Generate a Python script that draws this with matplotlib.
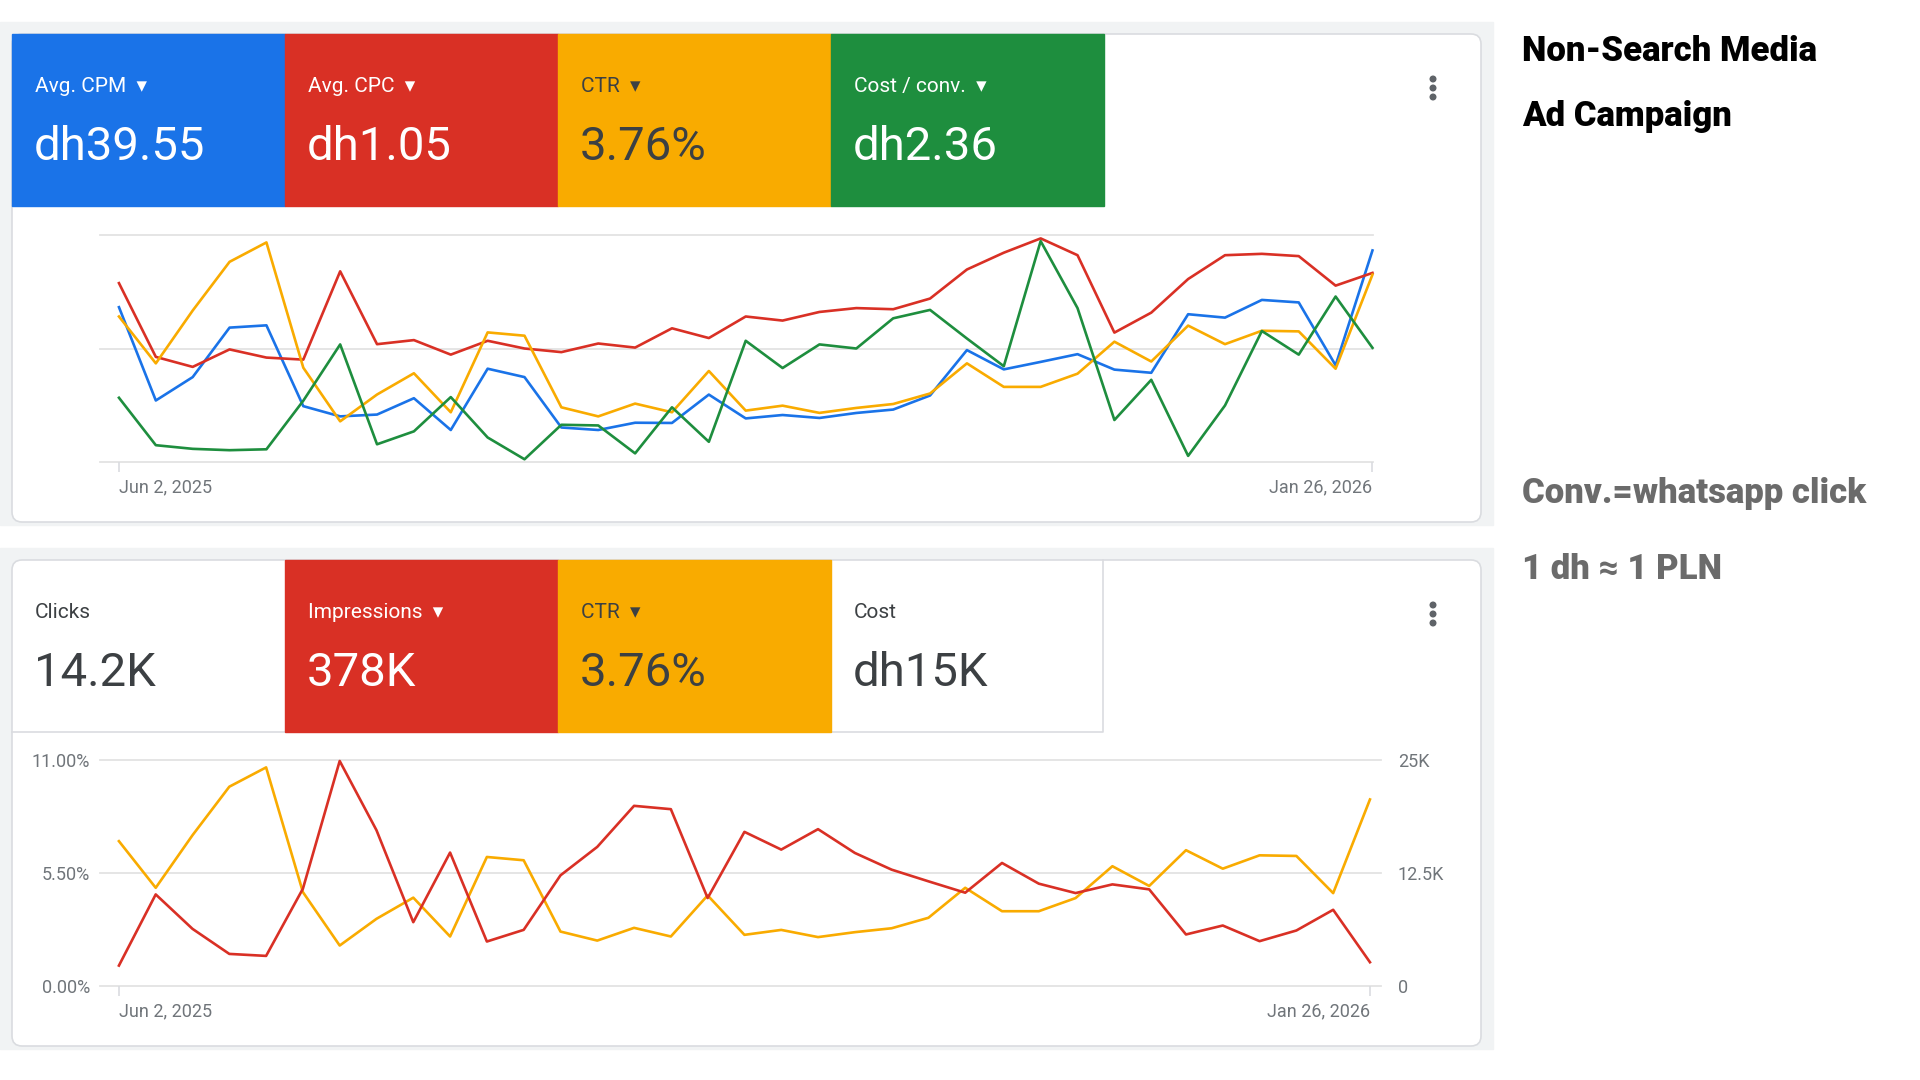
import matplotlib
matplotlib.use("Agg")
import matplotlib.pyplot as plt
import pandas as pd
from matplotlib.patches import Rectangle, FancyBboxPatch, Circle

plt.rcParams["font.family"] = ["Roboto", "DejaVu Sans"]

BLUE = "#1a73e8"
RED = "#d93025"
YELLOW = "#f9ab00"
GREEN = "#1e8e3e"
INK = "#3c4043"
MUTED = "#70757a"
LINE = "#dadce0"
GRID = "#e3e3e3"

weeks = pd.date_range("2025-06-02", periods=35, freq="7D")

# top chart has no visible axis -> values as % of each metric's own axis height
cpm_rel = [68.2, 27.1, 37.4, 59.2, 60.2, 24.6, 20.1, 20.9, 28.1, 14.1, 41.1, 37.4,
           15.2, 14.1, 17.3, 17.2, 29.7, 19.2, 20.7, 19.4, 21.6, 23.1, 29.3, 49.3,
           40.8, 44.1, 47.5, 40.7, 39.3, 65.1, 63.6, 71.4, 70.3, 42.6, 93.2]
cpc_rel = [78.8, 46.3, 41.9, 49.6, 46.0, 45.1, 84.0, 51.9, 53.7, 47.3, 53.4, 50.0,
           48.4, 52.2, 50.4, 58.9, 54.6, 64.1, 62.3, 66.1, 67.8, 67.3, 72.0, 84.8,
           92.2, 98.5, 91.1, 57.0, 65.8, 80.6, 91.1, 91.7, 90.7, 77.7, 83.3]
conv_rel = [28.3, 7.4, 5.8, 5.2, 5.6, 27.0, 51.8, 7.8, 13.5, 28.6, 10.8, 1.2,
            16.4, 16.1, 3.8, 24.1, 8.9, 53.4, 41.4, 51.8, 50.0, 63.3, 67.0, 54.4,
            42.2, 97.3, 67.8, 18.5, 36.2, 2.7, 24.9, 57.7, 47.3, 72.9, 50.3]

# CTR (%) and weekly impressions
ctr_pct = [7.05, 4.78, 7.34, 9.70, 10.64, 4.57, 1.97, 3.27, 4.30, 2.41, 6.28, 6.12,
           2.65, 2.21, 2.83, 2.41, 4.41, 2.49, 2.73, 2.38, 2.62, 2.81, 3.32, 4.78,
           3.64, 3.64, 4.28, 5.83, 4.87, 6.61, 5.71, 6.36, 6.33, 4.52, 9.08]
impressions = [2260, 10130, 6320, 3550, 3330, 10760, 24890, 17230, 7060, 14760, 4920, 6210,
               12240, 15390, 19930, 19560, 9730, 17050, 15090, 17350, 14720, 12870, 11580, 10320,
               13610, 11320, 10280, 11240, 10690, 5700, 6690, 4960, 6140, 8430, 2630]

top_labels = ["Avg. CPM", "Avg. CPC", "CTR", "Cost / conv."]
top_values = ["dh39.55", "dh1.05", "3.76%", "dh2.36"]
top_colors = [BLUE, RED, YELLOW, GREEN]

bottom_labels = ["Clicks", "Impressions", "CTR", "Cost"]
bottom_values = ["14.2K", "378K", "3.76%", "dh15K"]
bottom_colors = [None, RED, YELLOW, None]

W, H = 1920, 1080
fig = plt.figure(figsize=(19.2, 10.8), dpi=100)
bg = fig.add_axes([0, 0, 1, 1])
bg.set_xlim(0, W)
bg.set_ylim(H, 0)
bg.axis("off")


def px_axes(x0, y0, x1, y1):
    return fig.add_axes([x0 / W, 1 - y1 / H, (x1 - x0) / W, (y1 - y0) / H])


def card(y0, y1, labels, values, colors, dropdown):
    bg.add_patch(Rectangle((0, y0 - 12), 1493, y1 - y0 + 15, color="#f1f3f4", zorder=0))
    bg.add_patch(FancyBboxPatch((12, y0), 1469, y1 - y0,
                                boxstyle="round,pad=0,rounding_size=10",
                                fc="white", ec=LINE, lw=1.2, zorder=1))
    th = 172
    bg.plot([12, 1103, 1103], [y0 + th, y0 + th, y0], color=LINE, lw=1.2, zorder=2)
    for i, (lab, val, col) in enumerate(zip(labels, values, colors)):
        x = 12 + i * 273
        if col is not None:
            bg.add_patch(Rectangle((x, y0), 273, th, color=col, zorder=3))
        tc = "white" if col in (BLUE, RED, GREEN) else INK
        txt = lab + ("  \u25be" if dropdown[i] else "")
        bg.text(x + 23, y0 + 58, txt, color=tc, fontsize=15, va="baseline", zorder=4)
        bg.text(x + 22, y0 + 126, val, color=tc, fontsize=34, va="baseline", zorder=4)
    for dy in (-9, 0, 9):
        bg.add_patch(Circle((1433, y0 + 54 + dy), 2.8, color="#5f6368", zorder=4))


card(34, 522, top_labels, top_values, top_colors, [True, True, True, True])
card(560, 1046, bottom_labels, bottom_values, bottom_colors, [False, True, True, False])


def style_dates(ax):
    ax.set_xticks([weeks[0], weeks[-1]])
    ax.set_xticklabels(["Jun 2, 2025", "Jan 26, 2026"])
    labs = ax.get_xticklabels()
    labs[0].set_ha("left")
    labs[1].set_ha("right")
    ax.tick_params(axis="x", length=7, width=1.2, color=LINE, labelcolor=MUTED,
                   labelsize=13, pad=5)
    for s in ax.spines.values():
        s.set_visible(False)


def hide(ax):
    ax.set_yticks([])
    for s in ax.spines.values():
        s.set_visible(False)


# ---- top chart (every metric on its own hidden scale)
ax1 = px_axes(100, 235, 1373, 462)
ax1.set_xlim(weeks[0] - pd.Timedelta(days=3.6), weeks[-1] + pd.Timedelta(days=0.1))
ax1.set_ylim(0, 100)
ax1.set_yticks([])
for g in (0, 50, 100):
    ax1.axhline(g, color=GRID, lw=1.3, clip_on=False, zorder=0)
ax1.plot(weeks, cpm_rel, color=BLUE, lw=1.9, clip_on=False)
ax1.plot(weeks, cpc_rel, color=RED, lw=1.9, clip_on=False)
style_dates(ax1)
ax1.patch.set_visible(False)

ax1b = ax1.twinx()
ax1b.set_ylim(0, 11)
ax1b.plot(weeks, ctr_pct, color=YELLOW, lw=1.9, clip_on=False)
hide(ax1b)

ax1c = ax1.twinx()
ax1c.set_ylim(0, 100)
ax1c.plot(weeks, conv_rel, color=GREEN, lw=1.9, clip_on=False)
hide(ax1c)

# ---- bottom chart
ax2 = px_axes(100, 760, 1381, 986)
ax2.set_xlim(weeks[0] - pd.Timedelta(days=3.6), weeks[-1] + pd.Timedelta(days=2.1))
ax2.set_ylim(0, 11)
ax2.set_yticks([0, 5.5, 11])
ax2.set_yticklabels(["0.00%", "5.50%", "11.00%"])
ax2.tick_params(axis="y", length=0, labelcolor=MUTED, labelsize=13, pad=7)
for g in (0, 5.5, 11):
    ax2.axhline(g, color=GRID, lw=1.3, clip_on=False, zorder=0)
ax2.plot(weeks, ctr_pct, color=YELLOW, lw=1.9, clip_on=False)
style_dates(ax2)
ax2.patch.set_visible(False)
ax2b = ax2.twinx()
ax2b.set_ylim(0, 25000)
ax2b.set_yticks([0, 12500, 25000])
ax2b.set_yticklabels(["0", "12.5K", "25K"])
ax2b.tick_params(axis="y", length=0, labelcolor=MUTED, labelsize=13, pad=12)
ax2b.plot(weeks, impressions, color=RED, lw=1.9, clip_on=False)
for s in ax2b.spines.values():
    s.set_visible(False)

# ---- side notes
side = ["Roboto", "DejaVu Sans"]
notes = [("Non-Search Media", 61, "black"), ("Ad Campaign", 126, "black"),
         ("Conv.=whatsapp click", 503, "#6b6b6b"), ("1 dh \u2248 1 PLN", 579, "#6b6b6b")]
for txt, y, col in notes:
    bg.text(1522, y, txt, fontsize=25, fontweight="black", family=side,
            color=col, va="baseline")

fig.savefig("out.png", dpi=100)
